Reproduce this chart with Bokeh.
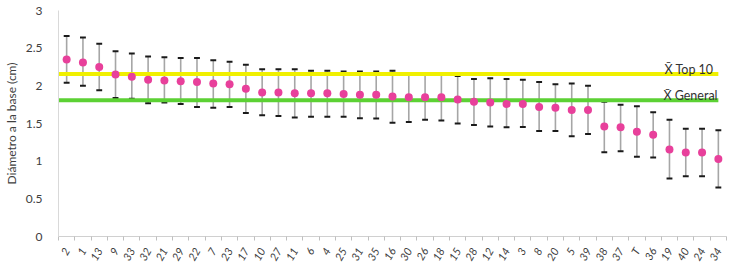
import math
from bokeh.plotting import figure
from bokeh.models import FixedTicker, ColumnDataSource
from bokeh.core.properties import value
from bokeh.embed import file_html
from bokeh.resources import INLINE

categories = ["2", "1", "13", "9", "33", "32", "21", "29", "22", "7", "23", "17", "10", "27",
              "11", "6", "4", "25", "31", "35", "16", "30", "26", "18", "15", "28", "12", "14",
              "3", "8", "20", "5", "39", "38", "37", "T", "36", "19", "40", "24", "34"]
means = [2.35, 2.31, 2.25, 2.15, 2.12, 2.08, 2.07, 2.06, 2.05, 2.03, 2.02, 1.96, 1.91, 1.91,
         1.90, 1.90, 1.90, 1.89, 1.88, 1.88, 1.86, 1.85, 1.85, 1.85, 1.82, 1.79, 1.78, 1.76,
         1.76, 1.72, 1.71, 1.68, 1.68, 1.46, 1.45, 1.39, 1.35, 1.155, 1.115, 1.115, 1.03]
upper = [2.66, 2.64, 2.56, 2.46, 2.43, 2.39, 2.38, 2.37, 2.37, 2.34, 2.32, 2.28, 2.22, 2.22,
         2.22, 2.20, 2.20, 2.19, 2.19, 2.19, 2.20, 2.17, 2.16, 2.15, 2.13, 2.09, 2.10, 2.09,
         2.08, 2.05, 2.02, 2.03, 2.00, 1.79, 1.75, 1.73, 1.65, 1.55, 1.43, 1.43, 1.41]
lower = [2.04, 2.00, 1.94, 1.84, 1.83, 1.77, 1.78, 1.76, 1.72, 1.71, 1.72, 1.64, 1.61, 1.60,
         1.58, 1.59, 1.59, 1.59, 1.57, 1.565, 1.51, 1.52, 1.55, 1.54, 1.50, 1.48, 1.46, 1.45,
         1.455, 1.40, 1.40, 1.33, 1.36, 1.12, 1.13, 1.06, 1.05, 0.77, 0.80, 0.80, 0.65]
mean_top10 = 2.156
mean_general = 1.81
ref_labels = ["X\u0304 Top 10", "X\u0304 General"]
y_ticks = [0, 0.5, 1, 1.5, 2, 2.5, 3]

xs = list(range(1, len(categories) + 1))
n = len(categories)

p = figure(width=737, height=269, output_backend="svg", toolbar_location=None,
           x_range=(0.5, n + 0.5), y_range=(0, 3),
           min_border_left=48, min_border_right=11, min_border_top=10, min_border_bottom=32)
p.background_fill_color = "white"
p.border_fill_color = "white"
p.outline_line_color = None
p.grid.visible = False

src = ColumnDataSource(dict(x=xs, m=means, up=upper, lo=lower))

# error bars: gray stems, black caps
p.segment(x0="x", y0="lo", x1="x", y1="up", source=src, line_color="#a6a6a6", line_width=1.6)
p.rect(x="x", y="up", width=0.36, height=2, height_units="screen", source=src,
       fill_color="#1a1a1a", line_color=None)
p.rect(x="x", y="lo", width=0.36, height=2, height_units="screen", source=src,
       fill_color="#1a1a1a", line_color=None)

# reference lines
p.line(x=[0.5, n], y=[mean_top10, mean_top10], line_color="#f0f000", line_width=4)
p.line(x=[0.5, n], y=[mean_general, mean_general], line_color="#5cd134", line_width=4)

p.scatter(x="x", y="m", source=src, size=8, fill_color="#e8409b", line_color=None)

p.text(x=[n - 0.3, n - 0.05], y=[2.22, 1.87], text=ref_labels,
       text_align="right", text_baseline="alphabetic", text_font=value("Lato"),
       text_font_size="12.5px", text_color="#333333")

# axes
xa = p.xaxis[0]
xa.ticker = FixedTicker(ticks=xs, minor_ticks=[i + 0.5 for i in range(0, n + 1)])
xa.major_label_overrides = {i: c for i, c in zip(xs, categories)}
xa.major_tick_line_color = None
xa.minor_tick_line_color = "#bfbfbf"
xa.minor_tick_out = 4
xa.minor_tick_in = 0
xa.axis_line_color = "#d0d0d0"
xa.major_label_orientation = math.pi / 3
xa.major_label_text_font = "Lato"
xa.major_label_text_font_size = "11px"
xa.major_label_text_font_style = "italic"
xa.major_label_text_color = "#404040"
xa.major_label_standoff = 6

ya = p.yaxis[0]
ya.ticker = FixedTicker(ticks=y_ticks)
ya.major_label_overrides = {0: "0", 0.5: "0.5", 1: "1", 1.5: "1.5", 2: "2", 2.5: "2.5", 3: "3"}
ya.major_tick_line_color = None
ya.minor_tick_line_color = None
ya.axis_line_color = "#d9d9d9"
ya.major_label_text_font = "Lato"
ya.major_label_text_font_size = "12px"
ya.major_label_text_color = "#404040"
ya.major_label_standoff = 10
ya.axis_label = "Diámetro a la base (cm)"
ya.axis_label_text_font = "Lato"
ya.axis_label_text_font_style = "normal"
ya.axis_label_text_font_size = "12px"
ya.axis_label_text_color = "#404040"
ya.axis_label_standoff = 4

open("out.html", "w").write(file_html(p, INLINE))
